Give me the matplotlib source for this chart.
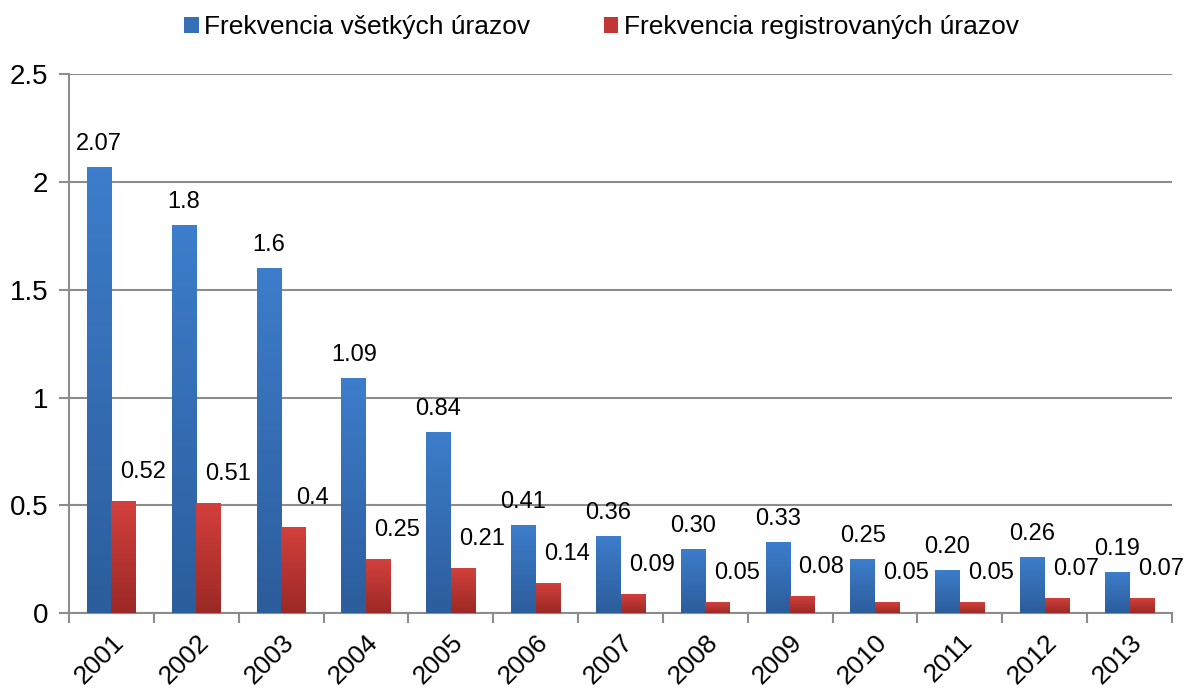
import numpy as np
import matplotlib.pyplot as plt
from matplotlib.colors import LinearSegmentedColormap

plt.rcParams['font.family'] = ['Liberation Sans', 'DejaVu Sans']

years = ["2001", "2002", "2003", "2004", "2005", "2006", "2007",
         "2008", "2009", "2010", "2011", "2012", "2013"]
all_injuries = [2.07, 1.8, 1.6, 1.09, 0.84, 0.41, 0.36, 0.30, 0.33, 0.25, 0.20, 0.26, 0.19]
reg_injuries = [0.52, 0.51, 0.4, 0.25, 0.21, 0.14, 0.09, 0.05, 0.08, 0.05, 0.05, 0.07, 0.07]
all_labels = ["2.07", "1.8", "1.6", "1.09", "0.84", "0.41", "0.36", "0.30", "0.33",
              "0.25", "0.20", "0.26", "0.19"]
reg_labels = ["0.52", "0.51", "0.4", "0.25", "0.21", "0.14", "0.09", "0.05", "0.08",
              "0.05", "0.05", "0.07", "0.07"]
series_names = ["Frekvencia všetkých úrazov", "Frekvencia registrovaných úrazov"]

blue_cmap = LinearSegmentedColormap.from_list("b", ["#2c5d9c", "#3d7dcb"])
red_cmap = LinearSegmentedColormap.from_list("r", ["#9c2926", "#d3403c"])

fig = plt.figure(figsize=(11.91, 6.89), dpi=100)
ax = fig.add_axes([0.058, 0.110, 0.926, 0.7825])

x = np.arange(len(years))
w = 0.29
grad = np.linspace(0, 1, 100).reshape(-1, 1)


def grad_bars(bars, cmap):
    for b in bars:
        b.set_facecolor("none")
        x0, y0 = b.get_x(), b.get_y()
        im = ax.imshow(grad, cmap=cmap, origin="lower", aspect="auto", zorder=3,
                       extent=[x0, x0 + b.get_width(), y0, y0 + b.get_height()])
        im.set_clip_path(b)


b1 = ax.bar(x - w / 2, all_injuries, w, color="#3670b8", label=series_names[0], zorder=3, linewidth=0)
b2 = ax.bar(x + w / 2, reg_injuries, w, color="#c23733", label=series_names[1], zorder=3, linewidth=0)
grad_bars(b1, blue_cmap)
grad_bars(b2, red_cmap)

for i in range(len(years)):
    ax.annotate(all_labels[i], (x[i] - w / 2, all_injuries[i]), xytext=(0, 12),
                textcoords="offset pixels", ha="center", va="bottom", fontsize=17)
    ax.annotate(reg_labels[i], (x[i] + w / 2, reg_injuries[i]), xytext=(19, 18),
                textcoords="offset pixels", ha="center", va="bottom", fontsize=17)

ax.set_xlim(-0.5, len(years) - 0.5)
ax.set_ylim(0, 2.5)
ax.set_yticks([0, 0.5, 1, 1.5, 2, 2.5])
ax.set_yticklabels(["0", "0.5", "1", "1.5", "2", "2.5"])
ax.yaxis.grid(True, color="#8c8c8c", linewidth=1.5, zorder=0)
ax.set_axisbelow(True)

ax.set_xticks(x)
ax.set_xticklabels(years, rotation=45, ha="right", rotation_mode="anchor")
ax.set_xticks(np.arange(-0.5, len(years), 1), minor=True)
ax.tick_params(axis="x", which="major", length=0, labelsize=19, pad=12)
ax.tick_params(axis="x", which="minor", length=7, width=1.5, color="#8c8c8c", direction="out")
ax.tick_params(axis="y", length=7, width=1.5, color="#8c8c8c", labelsize=20, pad=8)

for s in ["top", "right"]:
    ax.spines[s].set_visible(False)
for s in ["left", "bottom"]:
    ax.spines[s].set_color("#8c8c8c")
    ax.spines[s].set_linewidth(1.5)

leg = fig.legend(handles=[b1, b2], labels=series_names, loc="upper center",
                 bbox_to_anchor=(0.505, 1.012), ncol=2, frameon=False, fontsize=19,
                 handlelength=0.55, handleheight=0.55, handletextpad=0.2, columnspacing=2.8)
for h, c in zip(leg.legend_handles, ["#3670b8", "#c23733"]):
    h.set_facecolor(c)

fig.savefig("out.png", dpi=100)
